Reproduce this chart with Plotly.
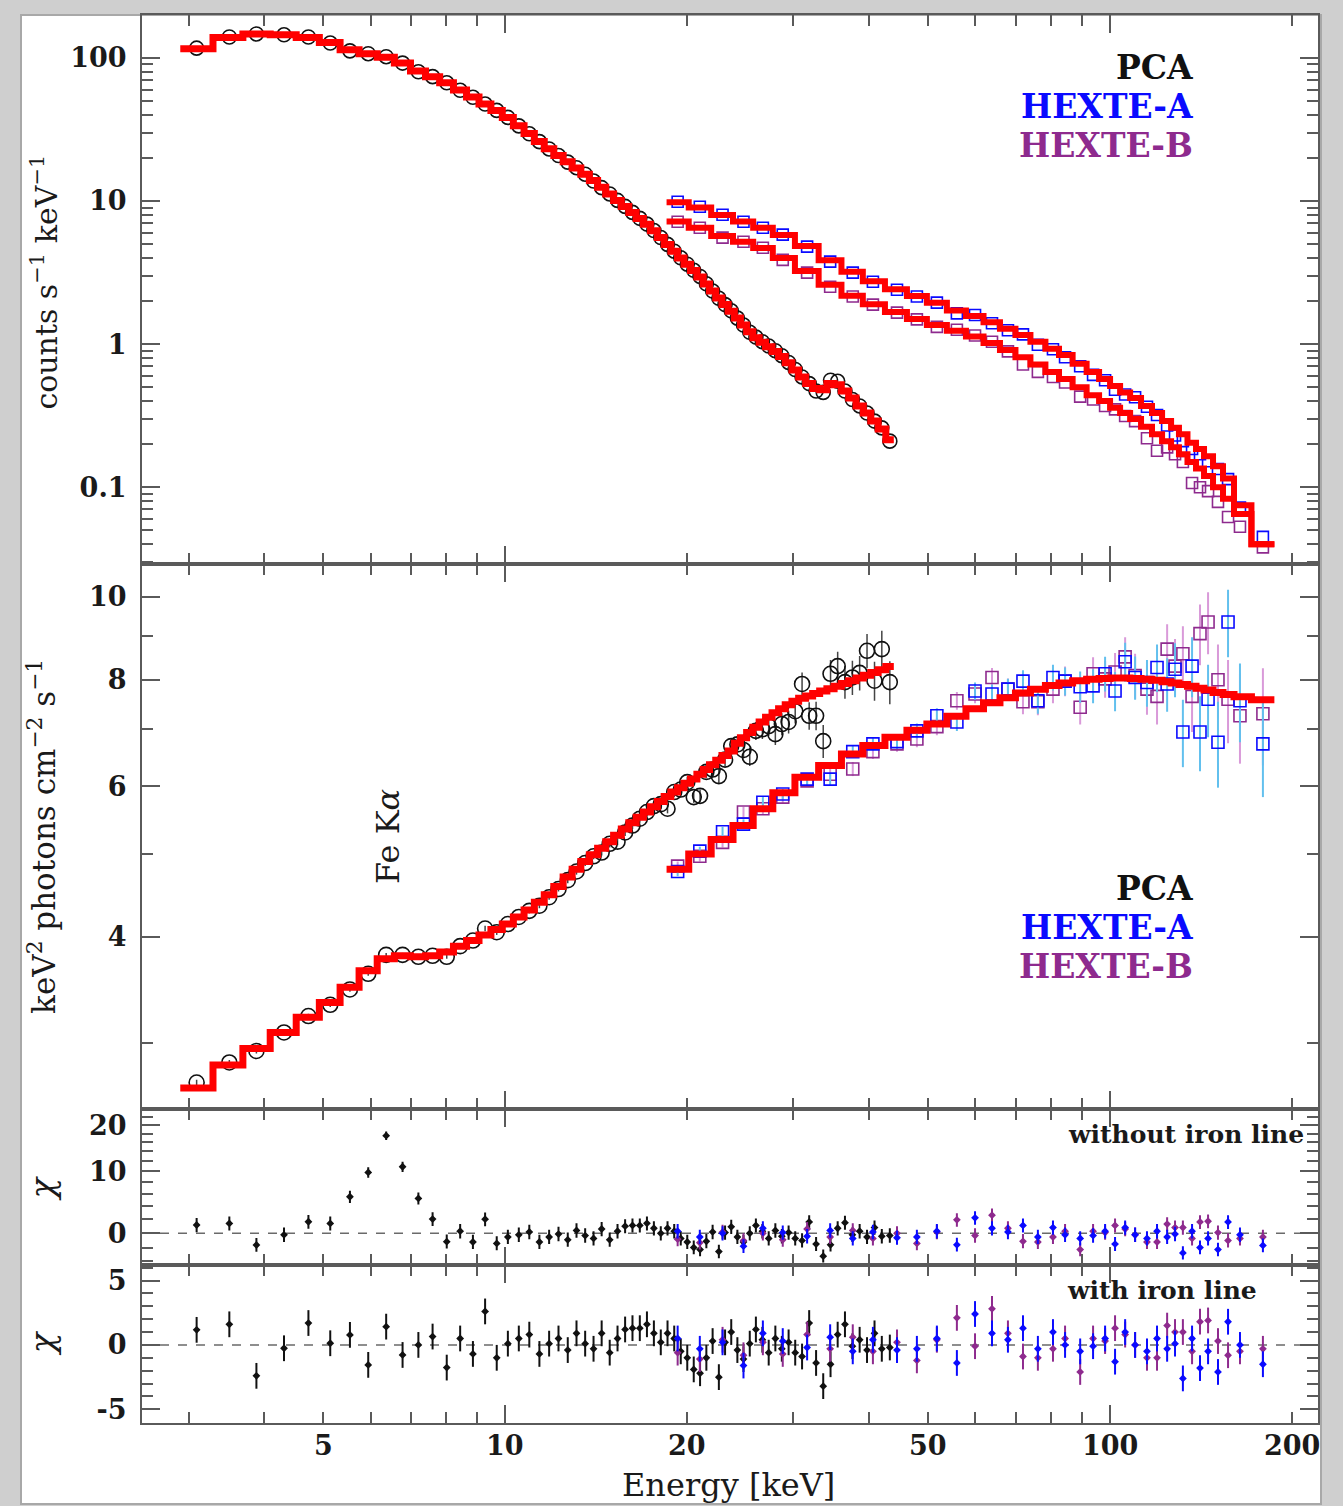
import math
import plotly.graph_objects as go

# ---------------- data ----------------
pca_energy = [3.09, 3.50, 3.88, 4.31, 4.73, 5.14, 5.54, 5.94, 6.36, 6.77,
              7.19, 7.59, 8.01, 8.43, 8.85, 9.27, 9.69, 10.11, 10.54, 10.97,
              11.40, 11.83, 12.26, 12.70, 13.13, 13.57, 14.01, 14.45, 14.90, 15.35,
              15.80, 16.25, 16.71, 17.17, 17.63, 18.10, 18.57, 19.05, 19.53, 20.02,
              20.52, 21.02, 21.53, 22.05, 22.58, 23.12, 23.67, 24.23, 24.80, 25.40,
              26.00, 26.65, 27.30, 28.00, 28.70, 29.45, 30.20, 31.00, 31.85, 32.70,
              33.60, 34.55, 35.50, 36.50, 37.55, 38.60, 39.70, 40.85, 42.00, 43.30]

pca_counts = [117, 140, 147, 145, 140, 127, 112, 107, 102, 92,
              80, 74, 67, 59.4, 53.1, 47.6, 43.0, 38.4, 33.5, 29.5,
              26.0, 23.1, 20.8, 18.7, 17.1, 15.4, 13.8, 12.4, 11.2, 10.1,
              9.17, 8.33, 7.57, 6.90, 6.22, 5.56, 4.98, 4.46, 4.01, 3.62,
              3.28, 2.97, 2.64, 2.35, 2.09, 1.89, 1.71, 1.52, 1.36, 1.21,
              1.12, 1.04, 0.97, 0.90, 0.83, 0.745, 0.665, 0.59, 0.53, 0.47,
              0.46, 0.56, 0.55, 0.47, 0.41, 0.37, 0.33, 0.29, 0.26, 0.21]

pca_counts_model = [116, 139, 147, 145, 139, 128, 114, 107, 101, 92,
                    81, 74, 67, 59.6, 53.3, 47.7, 42.9, 38.4, 33.6, 29.6,
                    26.1, 23.2, 20.8, 18.8, 17.0, 15.4, 13.9, 12.5, 11.2, 10.1,
                    9.15, 8.30, 7.55, 6.88, 6.20, 5.55, 4.97, 4.45, 4.00, 3.61,
                    3.27, 2.95, 2.63, 2.35, 2.10, 1.89, 1.70, 1.52, 1.36, 1.22,
                    1.11, 1.03, 0.96, 0.89, 0.82, 0.74, 0.66, 0.59, 0.53, 0.49,
                    0.48, 0.53, 0.52, 0.47, 0.42, 0.37, 0.33, 0.29, 0.255, 0.215]

pca_eeuf = [2.70, 2.85, 2.94, 3.09, 3.23, 3.33, 3.47, 3.62, 3.81, 3.81,
            3.79, 3.80, 3.79, 3.90, 3.96, 4.09, 4.05, 4.14, 4.22, 4.29,
            4.35, 4.45, 4.55, 4.66, 4.77, 4.88, 4.97, 5.02, 5.14, 5.17,
            5.30, 5.40, 5.50, 5.60, 5.69, 5.72, 5.65, 5.91, 5.95, 6.07,
            5.83, 5.85, 6.24, 6.28, 6.17, 6.45, 6.69, 6.72, 6.62, 6.50,
            6.97, 7.00, 7.06, 6.91, 7.10, 7.14, 7.35, 7.91, 7.26, 7.26,
            6.78, 8.13, 8.30, 7.95, 8.05, 8.15, 8.65, 7.98, 8.69, 7.95]

pca_eeuf_err = [0.02, 0.02, 0.02, 0.02, 0.02, 0.02, 0.02, 0.02, 0.02, 0.02,
                0.02, 0.02, 0.02, 0.02, 0.02, 0.03, 0.03, 0.03, 0.03, 0.03,
                0.03, 0.03, 0.03, 0.04, 0.04, 0.04, 0.04, 0.04, 0.05, 0.05,
                0.05, 0.05, 0.06, 0.06, 0.06, 0.07, 0.07, 0.08, 0.08, 0.09,
                0.09, 0.10, 0.10, 0.11, 0.12, 0.12, 0.13, 0.14, 0.15, 0.16,
                0.17, 0.18, 0.19, 0.20, 0.21, 0.22, 0.24, 0.25, 0.27, 0.28,
                0.30, 0.31, 0.33, 0.35, 0.37, 0.38, 0.40, 0.42, 0.44, 0.46]

pca_eeuf_model = [2.66, 2.83, 2.96, 3.09, 3.22, 3.35, 3.49, 3.65, 3.77, 3.80,
                  3.79, 3.80, 3.84, 3.90, 3.96, 4.02, 4.08, 4.14, 4.22, 4.30,
                  4.39, 4.48, 4.58, 4.70, 4.80, 4.90, 4.99, 5.08, 5.17, 5.26,
                  5.35, 5.44, 5.52, 5.60, 5.68, 5.76, 5.84, 5.91, 5.98, 6.05,
                  6.12, 6.20, 6.28, 6.36, 6.44, 6.52, 6.60, 6.74, 6.84, 6.94,
                  7.04, 7.14, 7.23, 7.32, 7.40, 7.48, 7.55, 7.61, 7.66, 7.71,
                  7.76, 7.81, 7.86, 7.92, 7.98, 8.04, 8.10, 8.16, 8.22, 8.29]

pca_chi_noline = [1.16, 1.39, -1.63, -0.2, 1.63, 1.39, 5.5, 9.8, 17.5, 10.9,
                  5.23, 2.02, -1.16, 0.3, -1.2, 2.0, -1.4, -0.5, -0.2, 0.2,
                  -1.2, -0.5, -0.1, -0.9, 0.4, -0.3, -0.7, 0.6, -0.9, 0.3,
                  1.0, 1.1, 1.1, 1.4, 0.7, 0.0, 0.7, 0.3, -0.7, -1.2,
                  -2.0, -2.3, -1.1, 0.2, -2.6, 0.1, 0.9, -0.5, -1.2, 0.0,
                  1.1, 0.3, -0.7, 0.4, -0.4, 0.1, -0.7, -1.0, 1.6, -1.5,
                  -3.3, -1.6, 0.7, 1.5, -0.2, 0.3, -0.5, 0.8, -0.4, -0.3]

pca_chi_line = [1.17, 1.6, -2.4, -0.26, 1.7, 0.13, 0.78, -1.55, 1.42, -0.78,
                0.0, 0.65, -1.76, 0.5, -0.7, 2.6, -1.0, 0.1, 0.5, 0.8,
                -0.7, 0.1, 0.5, -0.4, 0.9, 0.1, -0.3, 0.9, -0.6, 0.5,
                1.2, 1.3, 1.3, 1.6, 0.9, 0.2, 0.9, 0.5, -0.5, -1.0,
                -1.9, -2.2, -1.0, 0.3, -2.5, 0.2, 1.0, -0.4, -1.1, 0.1,
                1.2, 0.4, -0.6, 0.5, -0.3, 0.2, -0.6, -0.9, 1.7, -1.4,
                -3.2, -1.5, 0.8, 1.6, -0.1, 0.4, -0.4, 0.9, -0.3, -0.2]

hexte_energy = [19.3, 21.0, 22.9, 24.8, 26.7, 28.8, 31.6, 34.5, 37.6, 40.6,
                44.5, 48.0, 51.8, 55.9, 59.9, 63.9, 67.9, 71.9, 76.1, 80.6,
                84.4, 89.4, 93.9, 98.3, 102.1, 106.1, 110.2, 115.3, 119.8, 124.5,
                128.3, 132.2, 136.9, 141.1, 145.5, 151.1, 157.0, 164.3, 179.3]

hexa_counts = [9.89, 9.12, 8.02, 7.17, 6.51, 5.82, 4.80, 3.77, 3.16, 2.73,
               2.40, 2.15, 1.95, 1.64, 1.60, 1.40, 1.25, 1.17, 0.99, 0.92,
               0.81, 0.70, 0.61, 0.56, 0.48, 0.445, 0.425, 0.365, 0.32, 0.27,
               0.23, 0.21, 0.185, 0.17, 0.152, 0.134, 0.114, 0.072, 0.045]

hexb_counts = [7.17, 6.51, 5.55, 5.19, 4.72, 3.88, 3.16, 2.52, 2.15, 1.89,
               1.66, 1.49, 1.32, 1.26, 1.15, 1.04, 0.89, 0.72, 0.64, 0.59,
               0.54, 0.43, 0.41, 0.37, 0.35, 0.315, 0.29, 0.22, 0.18, 0.19,
               0.17, 0.15, 0.107, 0.10, 0.094, 0.079, 0.062, 0.053, 0.038]

hexa_counts_model = [9.8, 9.0, 8.0, 7.2, 6.5, 5.8, 4.85, 3.85, 3.2, 2.75,
                     2.42, 2.17, 1.95, 1.72, 1.57, 1.42, 1.28, 1.16, 1.04, 0.93,
                     0.84, 0.73, 0.64, 0.57, 0.51, 0.46, 0.42, 0.37, 0.33, 0.29,
                     0.26, 0.235, 0.205, 0.185, 0.165, 0.14, 0.115, 0.075, 0.040]

hexb_counts_model = [7.2, 6.5, 5.7, 5.2, 4.7, 4.0, 3.25, 2.6, 2.18, 1.9,
                     1.68, 1.5, 1.36, 1.24, 1.13, 1.02, 0.91, 0.81, 0.72, 0.64,
                     0.57, 0.50, 0.44, 0.40, 0.36, 0.33, 0.30, 0.265, 0.235, 0.21,
                     0.19, 0.17, 0.15, 0.135, 0.12, 0.10, 0.083, 0.065, 0.040]

hexa_eeuf = [4.77, 5.04, 5.31, 5.42, 5.75, 5.88, 6.12, 6.12, 6.59, 6.73,
             6.77, 6.97, 7.26, 7.14, 7.76, 7.70, 7.80, 7.97, 7.56, 8.05,
             7.97, 7.85, 7.87, 8.13, 7.76, 8.40, 8.05, 7.94, 8.27, 7.91,
             8.23, 6.95, 8.30, 6.95, 7.59, 6.76, 9.35, 7.56, 6.73]

hexb_eeuf = [4.84, 4.97, 5.16, 5.60, 5.65, 5.83, 6.09, 6.20, 6.29, 6.59,
             6.73, 6.82, 7.05, 7.56, 7.70, 8.05, 7.80, 7.54, 7.54, 7.80,
             7.97, 7.43, 8.13, 8.02, 8.17, 8.51, 8.09, 7.80, 7.65, 8.69,
             8.30, 8.58, 7.65, 9.06, 9.35, 8.00, 7.59, 7.26, 7.30]

hexa_eeuf_err = [0.06, 0.06, 0.07, 0.07, 0.08, 0.08, 0.09, 0.10, 0.11, 0.12,
                 0.13, 0.14, 0.15, 0.17, 0.18, 0.20, 0.22, 0.24, 0.26, 0.28,
                 0.30, 0.33, 0.36, 0.38, 0.41, 0.44, 0.47, 0.50, 0.53, 0.57,
                 0.60, 0.63, 0.67, 0.70, 0.74, 0.78, 0.85, 0.80, 0.90]

hexb_eeuf_err = [0.06, 0.07, 0.07, 0.08, 0.08, 0.09, 0.10, 0.11, 0.12, 0.13,
                 0.14, 0.15, 0.16, 0.18, 0.19, 0.21, 0.23, 0.25, 0.27, 0.29,
                 0.32, 0.34, 0.37, 0.40, 0.43, 0.46, 0.49, 0.52, 0.56, 0.60,
                 0.63, 0.66, 0.70, 0.74, 0.78, 0.80, 0.85, 0.88, 0.95]

hexte_eeuf_model = [4.80, 5.00, 5.20, 5.40, 5.65, 5.90, 6.15, 6.35, 6.55, 6.70,
                    6.85, 6.98, 7.10, 7.25, 7.40, 7.52, 7.62, 7.72, 7.80, 7.88,
                    7.93, 7.98, 8.01, 8.03, 8.04, 8.04, 8.03, 8.01, 7.99, 7.96,
                    7.93, 7.90, 7.86, 7.82, 7.78, 7.73, 7.69, 7.64, 7.58]

hexa_chi_noline = [0.3, -0.5, 0.0, -1.8, 0.7, 0.1, -0.4, 0.4, -0.7, 0.2,
                   -0.6, -0.5, 0.3, -1.6, 2.2, 0.7, 0.2, 1.1, -0.5, 0.8,
                   -0.2, -0.7, -0.3, 0.3, -1.5, 0.8, -0.2, -0.7, 0.3, -0.5,
                   -0.1, -2.8, 0.3, -2.0, -0.7, -2.3, 1.6, -0.2, -1.7]

hexb_chi_noline = [-0.8, -1.3, 0.2, -1.0, 0.0, -0.9, 0.6, -0.5, 0.4, -0.7,
                   0.0, -1.4, 0.2, 1.9, -0.3, 2.6, 0.7, -1.1, -1.2, -0.5,
                   0.3, -2.3, 0.3, 0.1, 1.1, 0.6, -0.2, -1.2, -1.2, 1.3,
                   0.8, 0.8, -0.7, 1.6, 1.7, 0.1, -1.0, -0.7, -0.5]

hexa_chi_line = [0.5, -0.3, 0.2, -1.6, 0.9, 0.3, -0.2, 0.6, -0.5, 0.4,
                 -0.4, -0.3, 0.5, -1.4, 2.4, 0.9, 0.4, 1.3, -0.3, 1.0,
                 0.0, -0.5, -0.1, 0.5, -1.3, 1.0, 0.0, -0.5, 0.5, -0.3,
                 0.1, -2.6, 0.5, -1.8, -0.5, -2.1, 1.8, 0.0, -1.5]

hexb_chi_line = [-0.6, -1.1, 0.4, -0.8, 0.2, -0.7, 0.8, -0.3, 0.6, -0.5,
                 0.2, -1.2, 0.4, 2.1, -0.1, 2.8, 0.9, -0.9, -1.0, -0.3,
                 0.5, -2.1, 0.5, 0.3, 1.3, 0.8, 0.0, -1.0, -1.0, 1.5,
                 1.0, 1.0, -0.5, 1.8, 1.9, 0.3, -0.8, -0.5, -0.3]

energy_ticks = [5, 10, 20, 50, 100, 200]

# ---------------- styling ----------------
W, H = 1343, 1506
BLACK = "#111111"
BLUE = "#0a0aff"
PURPLE = "#8e2a8e"
BLUE_ERR = "#62c0ee"
PURPLE_ERR = "#d99ad9"
RED = "#ff0000"
AXIS = "#5a5a5a"
SERIF = "DejaVu Serif"

X0, X1 = 142, 1318
PANELS = {1: (15, 565), 2: (565, 1110), 3: (1110, 1267), 4: (1267, 1425)}


def fx(p):
    return p / W


def fy(p):
    return 1 - p / H


# the upper residual panel is drawn on a compressed scale
SQ = 25.0


def chi_scale(v):
    return math.copysign(math.log1p(abs(v) / SQ), v)


def bin_edges(c):
    mids = [math.sqrt(a * b) for a, b in zip(c[:-1], c[1:])]
    return [c[0] ** 2 / mids[0]] + mids + [c[-1] ** 2 / mids[-1]]


def steps(c, v):
    return bin_edges(c), list(v) + [v[-1]]


fig = go.Figure()


def add_points(x, y, ax, symbol, size, color, err=None, errminus=None,
               errcolor=None, errwidth=1.5, lw=1.6):
    kw = {}
    if err is not None:
        kw["error_y"] = dict(type="data", array=err,
                             arrayminus=errminus if errminus is not None else err,
                             symmetric=errminus is None, color=errcolor or color,
                             thickness=errwidth, width=0)
    fig.add_trace(go.Scatter(
        x=x, y=y, mode="markers", xaxis="x" + ax, yaxis="y" + ax,
        marker=dict(symbol=symbol, size=size, color=color,
                    line=dict(width=lw, color=color)),
        hoverinfo="skip", **kw))


def add_model(x, y, ax, width=7):
    ex, ey = steps(x, y)
    fig.add_trace(go.Scatter(
        x=ex, y=ey, mode="lines", xaxis="x" + ax, yaxis="y" + ax,
        line=dict(color=RED, width=width, shape="hv"), hoverinfo="skip"))


# panel 1: folded count spectra
add_points(pca_energy, pca_counts, "", "circle-open", 14, BLACK)
add_points(hexte_energy, hexa_counts, "", "square-open", 11, BLUE)
add_points(hexte_energy, hexb_counts, "", "square-open", 11, PURPLE)
add_model(pca_energy, pca_counts_model, "")
add_model(hexte_energy, hexa_counts_model, "", 6)
add_model(hexte_energy, hexb_counts_model, "", 6)

# panel 2: unfolded E^2 F(E) spectrum
add_points(pca_energy, pca_eeuf, "2", "circle-open", 15, BLACK,
           err=pca_eeuf_err, errcolor="#444444")
add_points(hexte_energy, hexb_eeuf, "2", "square-open", 12, PURPLE,
           err=hexb_eeuf_err, errcolor=PURPLE_ERR, errwidth=2)
add_points(hexte_energy, hexa_eeuf, "2", "square-open", 12, BLUE,
           err=hexa_eeuf_err, errcolor=BLUE_ERR, errwidth=2)
add_model(pca_energy, pca_eeuf_model, "2")
add_model(hexte_energy, hexte_eeuf_model, "2")


# panel 3: residuals without the iron line (compressed scale)
def scaled_chi(vals):
    y = [chi_scale(v) for v in vals]
    up = [chi_scale(v + 1) - chi_scale(v) for v in vals]
    dn = [chi_scale(v) - chi_scale(v - 1) for v in vals]
    return y, up, dn


for e, vals, col in [(pca_energy, pca_chi_noline, BLACK),
                     (hexte_energy, hexb_chi_noline, PURPLE),
                     (hexte_energy, hexa_chi_noline, BLUE)]:
    y, up, dn = scaled_chi(vals)
    add_points(e, y, "3", "diamond", 6, col, err=up, errminus=dn,
               errwidth=2, lw=0)

# panel 4: residuals with the iron line
for e, vals, col in [(pca_energy, pca_chi_line, BLACK),
                     (hexte_energy, hexb_chi_line, PURPLE),
                     (hexte_energy, hexa_chi_line, BLUE)]:
    add_points(e, vals, "4", "diamond", 6, col, err=[1.0] * len(vals),
               errwidth=2, lw=0)

# ---------------- axes ----------------
axis_common = dict(showline=True, linecolor=AXIS, linewidth=2, mirror="allticks",
                   ticks="inside", tickcolor=AXIS, tickwidth=1.5,
                   showgrid=False, zeroline=False, fixedrange=True)
tickfont = dict(family=SERIF, size=27, color="#1a1a1a", weight="bold")

x_minor = [3, 4, 5, 6, 7, 8, 9, 20, 30, 40, 50, 60, 70, 80, 90, 200]
x_range = [0.3996, 2.3447]

layout = {}
for i in range(1, 5):
    key = "xaxis" if i == 1 else f"xaxis{i}"
    layout[key] = dict(axis_common, type="log", range=x_range,
                       domain=[fx(X0), fx(X1)],
                       anchor="y" if i == 1 else f"y{i}",
                       tickmode="array", tickvals=[10, 100], ticklen=18,
                       showticklabels=False,
                       minor=dict(tickmode="array", tickvals=x_minor, ticklen=11,
                                  ticks="inside", tickcolor=AXIS, tickwidth=1.5))


def ydomain(i):
    top, bot = PANELS[i]
    return [fy(bot), fy(top)]


y1_minor = [m * d for d in (0.01, 0.1, 1, 10, 100) for m in range(2, 10)]
layout["yaxis"] = dict(axis_common, type="log", range=[-1.538, 2.300],
                       domain=ydomain(1), anchor="x",
                       tickmode="array", tickvals=[0.1, 1, 10, 100],
                       ticktext=["0.1", "1", "10", "100"], ticklen=18,
                       tickfont=tickfont, ticklabelstandoff=8,
                       minor=dict(tickmode="array", tickvals=y1_minor, ticklen=11,
                                  ticks="inside", tickcolor=AXIS, tickwidth=1.5))
layout["yaxis2"] = dict(axis_common, type="log", range=[0.4009, 1.0384],
                        domain=ydomain(2), anchor="x2",
                        tickmode="array", tickvals=[4, 6, 8, 10],
                        ticktext=["4", "6", "8", "10"], ticklen=18,
                        tickfont=tickfont, ticklabelstandoff=8,
                        minor=dict(tickmode="array", tickvals=[3, 5, 7, 9], ticklen=11,
                                   ticks="inside", tickcolor=AXIS, tickwidth=1.5))
layout["yaxis3"] = dict(axis_common, type="linear", range=[-0.1736, 0.678],
                        domain=ydomain(3), anchor="x3",
                        tickmode="array",
                        tickvals=[chi_scale(v) for v in (0, 10, 20)],
                        ticktext=["0", "10", "20"], ticklen=18,
                        tickfont=tickfont, ticklabelstandoff=8,
                        minor=dict(tickmode="array",
                                   tickvals=[chi_scale(v) for v in
                                             (-4, -2, 2, 4, 6, 8, 12, 14, 16, 18, 22)],
                                   ticklen=11, ticks="inside", tickcolor=AXIS,
                                   tickwidth=1.5))
layout["yaxis4"] = dict(axis_common, type="linear", range=[-6.07, 6.18],
                        domain=ydomain(4), anchor="x4",
                        tickmode="array", tickvals=[-5, 0, 5],
                        ticktext=["-5", "0", "5"], ticklen=18,
                        tickfont=tickfont, ticklabelstandoff=8,
                        minor=dict(tickmode="array",
                                   tickvals=[-6, -4, -3, -2, -1, 1, 2, 3, 4, 6],
                                   ticklen=11, ticks="inside", tickcolor=AXIS,
                                   tickwidth=1.5))

# ---------------- decorations ----------------
shapes = [
    # page background behind the figure
    dict(type="rect", xref="paper", yref="paper", x0=fx(21), x1=fx(1321),
         y0=0, y1=fy(15), fillcolor="white", line=dict(color="#a8a8a8", width=2),
         layer="below"),
]
for ax in ("3", "4"):
    shapes.append(dict(type="line", xref=f"x{ax} domain", yref=f"y{ax}",
                       x0=0, x1=1, y0=0, y1=0, layer="below",
                       line=dict(color="#6a6a6a", width=1.5, dash="dash")))

annotations = []


def label(text, x, y, size, color="#1a1a1a", bold=True, xanchor="center",
          angle=0, xref="paper"):
    annotations.append(dict(
        text=text, x=x, y=fy(y), xref=xref, yref="paper",
        xanchor=xanchor, yanchor="middle", showarrow=False, textangle=angle,
        font=dict(family=SERIF, size=size, color=color,
                  weight="bold" if bold else "normal")))


# energy tick labels under the bottom panel
for v in energy_ticks:
    label(str(v), math.log10(v), 1447, 27, xref="x4")

# instrument keys
for (txt, col), dy in zip([("PCA", BLACK), ("HEXTE-A", BLUE), ("HEXTE-B", PURPLE)],
                          (0, 39, 78)):
    label(txt, fx(1195), 68 + dy, 33, color=col, xanchor="right")
    label(txt, fx(1195), 890 + dy, 33, color=col, xanchor="right")

label("without iron line", fx(1306), 1136, 25, xanchor="right")
label("with iron line", fx(1259), 1292, 25, xanchor="right")
label("Fe K<i>α</i>", fx(388), 838, 32, bold=False, angle=-90)

label("counts s<sup>−1</sup> keV<sup>−1</sup>", fx(45), 283, 30, bold=False, angle=-90)
label("keV<sup>2</sup> photons cm<sup>−2</sup> s<sup>−1</sup>", fx(42), 838, 31,
      bold=False, angle=-90)
label("<i>χ</i>", fx(42), 1190, 34, bold=False, angle=-90)
label("<i>χ</i>", fx(42), 1345, 34, bold=False, angle=-90)
label("Energy [keV]", fx(728), 1487, 32, bold=False)

fig.update_layout(
    width=W, height=H, margin=dict(l=0, r=0, t=0, b=0),
    paper_bgcolor="#cfcfcf", plot_bgcolor="white", showlegend=False,
    shapes=shapes, annotations=annotations, **layout)

fig.write_html("out.html", config={"displayModeBar": False})
